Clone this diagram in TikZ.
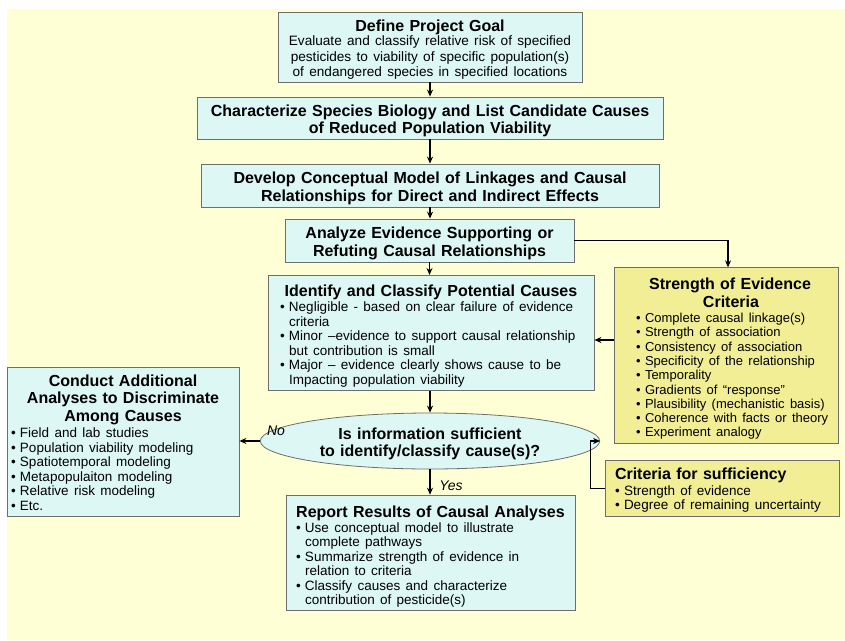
\documentclass[tikz,border=0pt]{standalone}
\usepackage{fontspec}
\setmainfont{Liberation Sans}
\usetikzlibrary{arrows.meta,shapes.geometric,calc}

\definecolor{pagebg}{HTML}{FFFFD6}
\definecolor{cyanbox}{HTML}{DCF7F4}
\definecolor{yellowbox}{HTML}{F1EE96}
\definecolor{boxline}{HTML}{6E6E6E}

\newcommand\ttl{\fontsize{16}{17.4}\selectfont\bfseries}
\newcommand\bod{\fontsize{13.5}{14.5}\selectfont\mdseries}
\newcommand\bods{\fontsize{13}{14.3}\selectfont\mdseries}
\newcommand\bt{\makebox[9pt][l]{\textbullet}}
% taller first line: pushes the text block a little lower in its box
\newcommand\up{\rule{0pt}{17pt}}

\tikzset{
  box/.style={draw=boxline, line width=0.8pt, rectangle, inner xsep=4pt, inner ysep=2pt,
    align=center, font=\ttl},
  cbox/.style={box, fill=cyanbox},
  ybox/.style={box, fill=yellowbox},
  arr/.style={line width=1.2pt, -{Stealth[length=7pt,width=6pt]}},
  lbl/.style={font=\fontsize{14}{16}\selectfont\itshape, inner sep=0pt},
}

\begin{document}
\begin{tikzpicture}[x=1pt,y=-1pt]
  \useasboundingbox (0,0) rectangle (845,640);
  \fill[white] (0,0) rectangle (845,640);
  \fill[pagebg] (7,9) rectangle (845,640);

  % main column
  \node[cbox, minimum width=304pt, minimum height=70pt, text width=296pt] (goal) at (430,47)
    {\up Define Project Goal\par\vspace{-1.5pt}
     {\fontsize{13.6}{15.5}\selectfont\mdseries Evaluate and classify relative risk of specified\\
      pesticides to viability of specific population(s)\\
      of endangered species in specified locations\par}};

  \node[cbox, minimum width=466pt, minimum height=42pt, text width=458pt] (charac) at (430,118)
    {\up Characterize Species Biology and List Candidate Causes\\of Reduced Population Viability};

  \node[cbox, minimum width=458pt, minimum height=43pt, text width=450pt] (model) at (430,185.5)
    {\up Develop Conceptual Model of Linkages and Causal\\Relationships for Direct and Indirect Effects};

  \node[cbox, minimum width=289pt, minimum height=43pt, text width=281pt] (analyze) at (429.5,240.5)
    {\up Analyze Evidence Supporting or\\Refuting Causal Relationships};

  \node[cbox, minimum width=326pt, minimum height=112pt, text width=318pt] (ident) at (431,333)
    {\rule{0pt}{19pt}Identify and Classify Potential Causes\par\vspace{-2pt}
     \makebox[318pt][l]{\hspace{8pt}\bod\begin{tabular}[t]{@{}l@{}l@{}}
       \bt & Negligible - based on clear failure of evidence\\
           & criteria\\
       \bt & Minor –evidence to support causal relationship\\
           & but contribution is small\\
       \bt & Major – evidence clearly shows cause to be\\
           & Impacting population viability
     \end{tabular}}};

  \node[draw=boxline, line width=0.8pt, fill=cyanbox, ellipse, minimum width=290pt,
        minimum height=56pt, inner sep=0pt, text width=240pt, align=center, font=\ttl] (suff) at (430,441)
    {\up Is information sufficient\\to identify/classify cause(s)?};

  \node[cbox, minimum width=289pt, minimum height=112pt, text width=281pt] (report) at (430.5,553)
    {\rule{0pt}{20pt}Report Results of Causal Analyses\par\vspace{-2.5pt}
     \makebox[281pt][l]{\hspace{6pt}\bod\begin{tabular}[t]{@{}l@{}l@{}}
       \bt & Use conceptual model to illustrate\\
           & complete pathways\\
       \bt & Summarize strength of evidence in\\
           & relation to criteria\\
       \bt & Classify causes and characterize\\
           & contribution of pesticide(s)
     \end{tabular}}};

  % side boxes
  \node[cbox, minimum width=232pt, minimum height=146pt, text width=224pt] (extra) at (123,442)
    {\up Conduct Additional\\Analyses to Discriminate\\Among Causes\par\vspace{-1pt}
     \makebox[224pt][l]{\bod\begin{tabular}[t]{@{}l@{}l@{}}
       \bt & Field and lab studies\\
       \bt & Population viability modeling\\
       \bt & Spatiotemporal modeling\\
       \bt & Metapopulaiton modeling\\
       \bt & Relative risk modeling\\
       \bt & Etc.
     \end{tabular}}};

  \node[ybox, minimum width=224pt, minimum height=173pt, text width=216pt] (strength) at (726,355.5)
    {\rule{0pt}{20pt}\hspace*{8pt}Strength of Evidence\\\hspace*{10pt}Criteria\par\vspace{-2pt}
     \makebox[216pt][l]{\hspace{18pt}\bods\begin{tabular}[t]{@{}l@{}l@{}}
       \bt & Complete causal linkage(s)\\
       \bt & Strength of association\\
       \bt & Consistency of association\\
       \bt & Specificity of the relationship\\
       \bt & Temporality\\
       \bt & Gradients of “response”\\
       \bt & Plausibility (mechanistic basis)\\
       \bt & Coherence with facts or theory\\
       \bt & Experiment analogy
     \end{tabular}}};

  \node[ybox, minimum width=234pt, minimum height=55pt, text width=226pt, align=left] (crit) at (722,488.5)
    {\up\hspace*{6pt}Criteria for sufficiency\par\vspace{-2pt}
     \hspace*{6pt}\bod\begin{tabular}[t]{@{}l@{}l@{}}
       \bt & Strength of evidence\\
       \bt & Degree of remaining uncertainty
     \end{tabular}};

  % connectors
  \draw[arr] (goal.south) -- (goal.south |- charac.north);
  \draw[arr] (charac.south) -- (charac.south |- model.north);
  \draw[arr] (model.south) -- (model.south |- analyze.north);
  \draw[arr] (analyze.south) -- (analyze.south |- ident.north);
  \draw[arr] (analyze.east) -| ([xshift=2pt]strength.north);
  \draw[arr] (strength.west |- 0,340) -- (ident.east |- 0,340);
  \draw[arr] (ident.south -| suff.north) -- (suff.north);
  \draw[arr] (suff.west) -- (suff.west -| extra.east);
  \draw[arr] (suff.south) -- (suff.south |- report.north);
  \draw[arr] (crit.west) -- ++(-14,0) |- (suff.east);

  \node[lbl] (nolbl) at (276,431) {No};
  \node[lbl] (yeslbl) at (451,486) {Yes};
\end{tikzpicture}
\end{document}
